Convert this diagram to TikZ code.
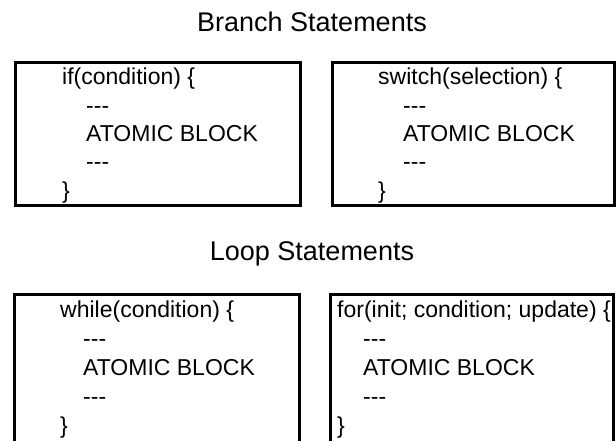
\documentclass[tikz,border=0pt]{standalone}
\usepackage{fontspec}
\newfontfamily\arial{Liberation Sans}
\begin{document}
\begin{tikzpicture}[x=1pt,y=-1pt,
  box/.style={draw=black,line width=3pt},
  code/.style={anchor=base west,inner sep=0pt,font=\arial\fontsize{23}{28}\selectfont},
  title/.style={anchor=base,inner sep=0pt,font=\arial\fontsize{27}{32}\selectfont}]
\useasboundingbox[fill=white] (0,0) rectangle (616,440);
\begin{scope}
\clip (0,0) rectangle (616,440);
% titles
\node[title] (t1) at (312,31) {Branch Statements};
\node[title] (t2) at (312,260) {Loop Statements};
% boxes
\draw[box] (15,62.5) rectangle (300.5,205.5);
\draw[box] (332.5,62.5) rectangle (614.5,205.5);
\draw[box] (14,294) rectangle (299,460);
\draw[box] (330,294) rectangle (613,460);
% box 1
\node[code] (a1) at (62,84.9) {if(condition) \{};
\node[code] (a2) at (86,113.2) {-\kern0pt-\kern0pt-};
\node[code] (a3) at (86,141.5) {ATOMIC BLOCK};
\node[code] (a4) at (86,169.8) {-\kern0pt-\kern0pt-};
\node[code] (a5) at (62,198.1) {\}};
% box 2
\node[code] (b1) at (378,84.9) {switch(selection) \{};
\node[code] (b2) at (403,113.2) {-\kern0pt-\kern0pt-};
\node[code] (b3) at (403,141.5) {ATOMIC BLOCK};
\node[code] (b4) at (403,169.8) {-\kern0pt-\kern0pt-};
\node[code] (b5) at (378,198.1) {\}};
% box 3
\node[code] (c1) at (60,317.5) {while(condition) \{};
\node[code] (c2) at (83,346.5) {-\kern0pt-\kern0pt-};
\node[code] (c3) at (83,375.5) {ATOMIC BLOCK};
\node[code] (c4) at (83,404.5) {-\kern0pt-\kern0pt-};
\node[code] (c5) at (60,433.5) {\}};
% box 4
\node[code] (d1) at (337,317.5) {for(init; condition; update) \{};
\node[code] (d2) at (363,346.5) {-\kern0pt-\kern0pt-};
\node[code] (d3) at (363,375.5) {ATOMIC BLOCK};
\node[code] (d4) at (363,404.5) {-\kern0pt-\kern0pt-};
\node[code] (d5) at (337,433.5) {\}};
\end{scope}
\end{tikzpicture}
\end{document}
